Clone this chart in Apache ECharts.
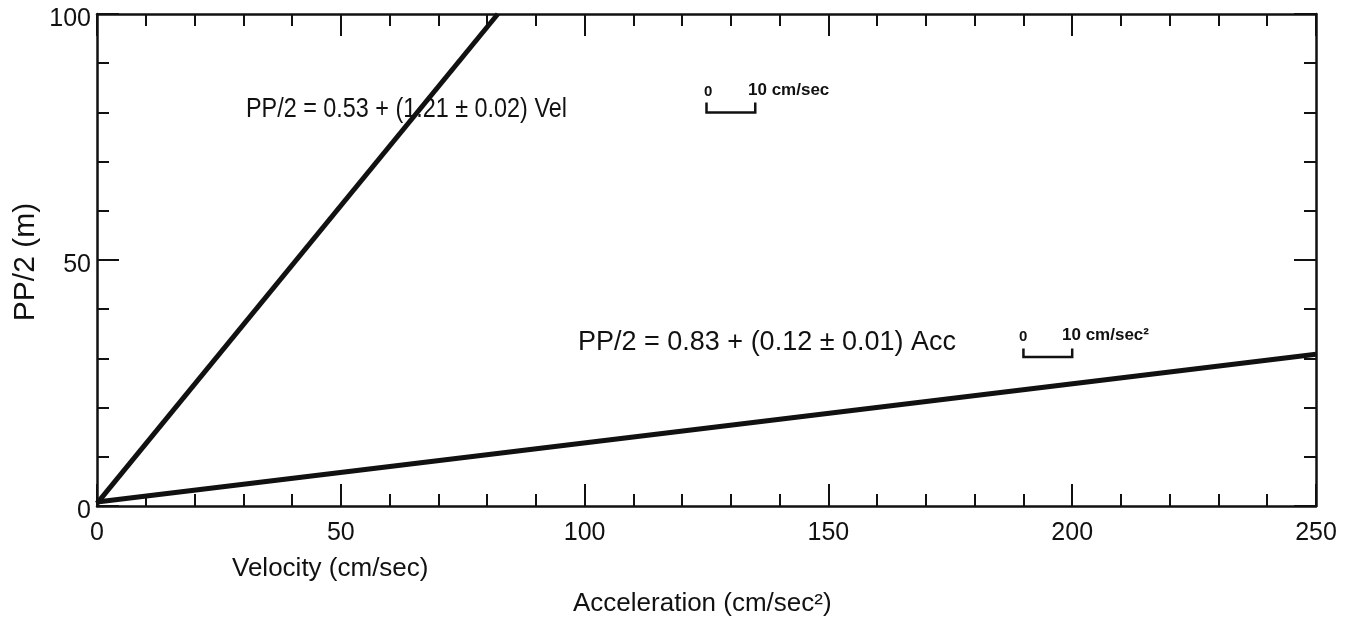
<!DOCTYPE html>
<html>
<head>
<meta charset="utf-8">
<script src="https://cdn.jsdelivr.net/npm/echarts@6/dist/echarts.min.js"></script>
<style>
  html, body { margin: 0; padding: 0; background: #fff; }
  #chart { width: 1358px; height: 620px; }
</style>
</head>
<body>
<div id="chart"></div>
<script>
// Fitted relations: PP/2 against velocity and against acceleration
const velocityFit = [[0, 0.53], [82.2, 100]];        // PP/2 = 0.53 + 1.21 Vel
const accelerationFit = [[0, 0.83], [250, 30.83]];   // PP/2 = 0.83 + 0.12 Acc

// 10-unit scale brackets drawn next to each equation
const velocityScaleBar = [[125, 82], [125, 80], [135, 80], [135, 82]];
const accelerationScaleBar = [[190, 32], [190, 30.3], [200, 30.3], [200, 32]];

const xTicks = [0, 50, 100, 150, 200, 250];
const yTicks = [0, 50, 100];

const velocityEquation = 'PP/2 = 0.53 + (1.21 \u00B1 0.02) Vel';
const accelerationEquation = 'PP/2 = 0.83 + (0.12 \u00B1 0.01) Acc';
const xTitleVelocity = 'Velocity (cm/sec)';
const xTitleAcceleration = 'Acceleration (cm/sec\u00B2)';
const yTitle = 'PP/2 (m)';

const SANS = '"Liberation Sans", Arial, sans-serif';
const INK = '#111';

function axisBase(min, max, interval, ticks, showLabel, position) {
  return {
    type: 'value',
    position: position,
    min: min,
    max: max,
    interval: interval,
    axisLine: { show: true, onZero: false, lineStyle: { color: INK, width: 2.5 } },
    axisTick: { show: true, inside: true, length: 22, lineStyle: { color: INK, width: 2 } },
    minorTick: { show: true, splitNumber: 5, length: 12, lineStyle: { color: INK, width: 2 } },
    splitLine: { show: false },
    minorSplitLine: { show: false },
    axisLabel: {
      show: showLabel,
      color: INK,
      fontFamily: SANS,
      fontSize: 25,
      formatter: v => (ticks.indexOf(v) >= 0 ? String(v) : '')
    }
  };
}

const xBottom = axisBase(0, 250, 50, xTicks, true, 'bottom');
xBottom.axisLabel.margin = 15;
const xTop = axisBase(0, 250, 50, xTicks, false, 'top');
const yLeft = axisBase(0, 100, 50, yTicks, true, 'left');
yLeft.axisLabel.margin = 6;
yLeft.axisLabel.verticalAlign = 'top';
yLeft.axisLabel.lineHeight = 10;
const yRight = axisBase(0, 100, 50, yTicks, false, 'right');

const chart = echarts.init(document.getElementById('chart'), null, { renderer: 'canvas' });

function lineSeries(data, width) {
  return {
    type: 'line',
    xAxisIndex: 0,
    yAxisIndex: 0,
    data: data,
    symbol: 'none',
    silent: true,
    animation: false,
    lineStyle: { color: INK, width: width, cap: 'butt', join: 'miter' }
  };
}

// Text anchored at its top-left corner, optionally compressed horizontally
function text(x, y, str, size, weight, scaleX) {
  return {
    type: 'text',
    x: x,
    y: y,
    scaleX: scaleX || 1,
    style: {
      text: str,
      fill: INK,
      font: (weight || 'normal') + ' ' + size + 'px ' + SANS,
      textAlign: 'left',
      textVerticalAlign: 'top'
    }
  };
}

chart.setOption({
  backgroundColor: '#fff',
  animation: false,
  grid: { left: 97, right: 42, top: 14, bottom: 114, containLabel: false },
  xAxis: [xBottom, xTop],
  yAxis: [yLeft, yRight],
  series: [
    lineSeries(velocityFit, 5),
    lineSeries(accelerationFit, 5),
    lineSeries(velocityScaleBar, 2.5),
    lineSeries(accelerationScaleBar, 2.5)
  ],
  graphic: [
    text(246, 95, velocityEquation, 28, 'normal', 0.835),
    text(578, 329, accelerationEquation, 27),
    text(704, 84, '0', 15, 'bold'),
    text(748, 82, '10 cm/sec', 17, 'bold'),
    text(1019, 329, '0', 15, 'bold'),
    text(1062, 327, '10 cm/sec\u00B2', 17, 'bold'),
    text(232, 556, xTitleVelocity, 26),
    text(573, 591, xTitleAcceleration, 26),
    {
      type: 'text',
      x: 11,
      y: 262,
      rotation: Math.PI / 2,
      style: {
        text: yTitle,
        fill: INK,
        font: 'normal 30px ' + SANS,
        textAlign: 'center',
        textVerticalAlign: 'top'
      }
    }
  ]
});
</script>
</body>
</html>
